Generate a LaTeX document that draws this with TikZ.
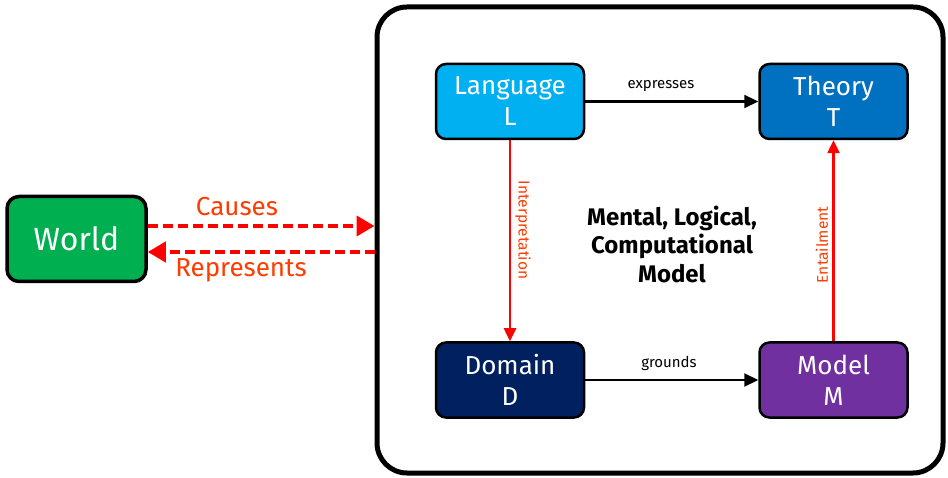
\documentclass[tikz,border=0pt]{standalone}
\usepackage{fontspec}
\setmainfont{Fira Sans}
\usetikzlibrary{arrows.meta}
\definecolor{cgreen}{HTML}{00B050}
\definecolor{clang}{HTML}{00B0F0}
\definecolor{ctheory}{HTML}{0070C0}
\definecolor{cdomain}{HTML}{002060}
\definecolor{cmodel}{HTML}{7030A0}
\definecolor{clabel}{HTML}{FF3C00}
\definecolor{cred}{HTML}{FF0000}
\begin{document}
\begin{tikzpicture}[x=1pt,y=-1pt,
  boxnode/.style={draw=black, line width=2.5pt, rounded corners=10pt, minimum width=148pt, minimum height=75pt,
    text=white, font=\fontsize{26}{31}\selectfont, align=center, inner sep=0pt},
  blackarrow/.style={draw=black, line width=2.2pt, -{Triangle[length=14pt,width=13pt]}},
  redarrow/.style={draw=cred, line width=2.5pt, -{Triangle[length=13pt,width=12pt]}},
  dasharrow/.style={draw=cred, line width=4pt, dash pattern=on 10pt off 5pt, -{Triangle[length=18pt,width=20pt]}},
  smalllbl/.style={font=\fontsize{15}{18}\selectfont, text=black},
  redlbl/.style={font=\fontsize{15.5}{18}\selectfont, text=clabel},
  biglbl/.style={font=\fontsize{26}{30}\selectfont, text=clabel}
]
\useasboundingbox (0,0) rectangle (948,478);
\node[draw=black, line width=5pt, rounded corners=30pt, minimum width=566pt, minimum height=466pt, inner sep=0pt] (frame) at (660,240) {};
\node[draw=black, line width=3.5pt, rounded corners=12pt, minimum width=139pt, minimum height=85pt, fill=cgreen,
  text=white, font=\fontsize{32}{38}\selectfont, inner sep=0pt] (world) at (76.5,239) {World};
\node[boxnode, fill=clang] (lang) at (510,101.5) {Language\\L};
\node[boxnode, fill=ctheory] (theory) at (833.5,101.5) {Theory\\T};
\node[boxnode, fill=cdomain] (dom) at (510,380) {Domain\\D};
\node[boxnode, fill=cmodel] (model) at (833.5,380) {Model\\M};
\node[font=\bfseries\fontsize{24}{28.5}\selectfont, align=center] (mental) at (672,244) {Mental, Logical,\\Computational\\Model};

\draw[blackarrow] (lang) -- (theory);
\node[smalllbl] (expl) at (661,86) {expresses};
\draw[blackarrow] (dom) -- (model);
\node[smalllbl] (grl) at (669,363) {grounds};
\draw[redarrow] (lang.south) -- (dom.north);
\node[redlbl, rotate=-90] (intl) at (523,230) {Interpretation};
\draw[redarrow] (model.north) -- (theory.south);
\node[redlbl, rotate=90] (entl) at (822,245) {Entailment};

\coordinate (c1) at (0,226);
\coordinate (c2) at (0,252);
\draw[dasharrow] (world.east |- c1) -- (frame.west |- c1);
\draw[dasharrow] (frame.west |- c2) -- (world.east |- c2);
\node[biglbl] (causes) at (237,207) {Causes};
\node[biglbl] (repr) at (241,270) {Represents};
\end{tikzpicture}
\end{document}
